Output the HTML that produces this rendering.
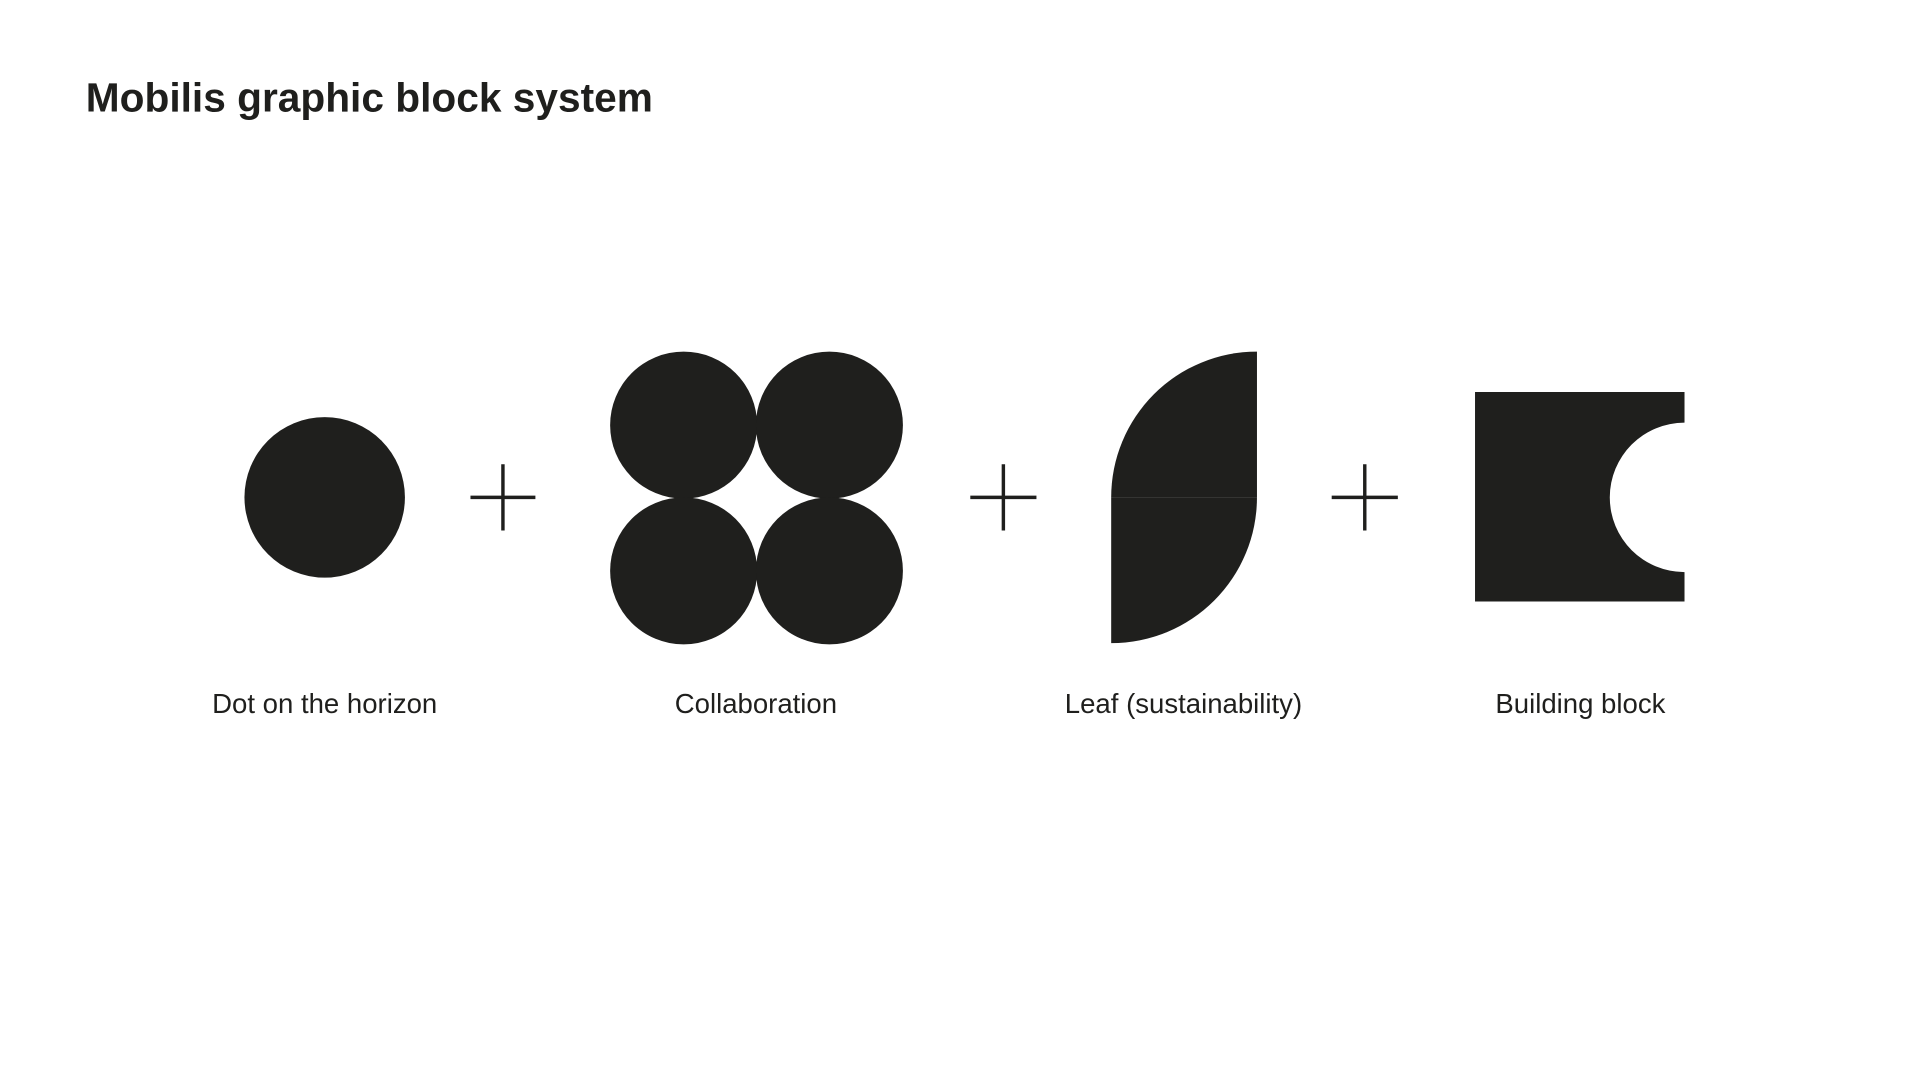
<!DOCTYPE html>
<html><head><meta charset="utf-8"><style>
html,body{margin:0;padding:0;background:#fff;}
svg{display:block;}
</style></head><body>
<svg width="1921" height="1081" viewBox="0 0 1568 882.4" xmlns="http://www.w3.org/2000/svg">
<rect width="1568" height="882.4" fill="#fff"/>
<text x="70" y="91" font-family="Liberation Sans, sans-serif" font-weight="bold" font-size="33.2" fill="#1f1f1d">Mobilis graphic block system</text>
<g fill="#1f1f1d">
<circle cx="265" cy="406" r="65.5"/>
<circle cx="558" cy="347" r="60"/>
<circle cx="677" cy="347" r="60"/>
<circle cx="558" cy="466" r="60"/>
<circle cx="677" cy="466" r="60"/>
<path d="M907,406 A119,119 0 0 1 1026,287 L1026,406 Z"/>
<path d="M907,406 L1026,406 A119,119 0 0 1 907,525 Z"/>
<path fill-rule="evenodd" d="M1204,320 H1375 V345 A61,61 0 0 0 1375,467 V491 H1204 Z"/>
</g>
<g stroke="#1f1f1d" stroke-width="2.8">
<line x1="384" y1="406" x2="437" y2="406"/><line x1="410.5" y1="379" x2="410.5" y2="433"/>
<line x1="792" y1="406" x2="846" y2="406"/><line x1="819" y1="379" x2="819" y2="433"/>
<line x1="1087" y1="406" x2="1141" y2="406"/><line x1="1114" y1="379" x2="1114" y2="433"/>
</g>
<g font-family="Liberation Sans, sans-serif" font-size="22.5" fill="#1f1f1d" text-anchor="middle">
<text x="265" y="582">Dot on the horizon</text>
<text x="617" y="582">Collaboration</text>
<text x="966" y="582">Leaf (sustainability)</text>
<text x="1290" y="582">Building block</text>
</g>
</svg>
</body></html>
